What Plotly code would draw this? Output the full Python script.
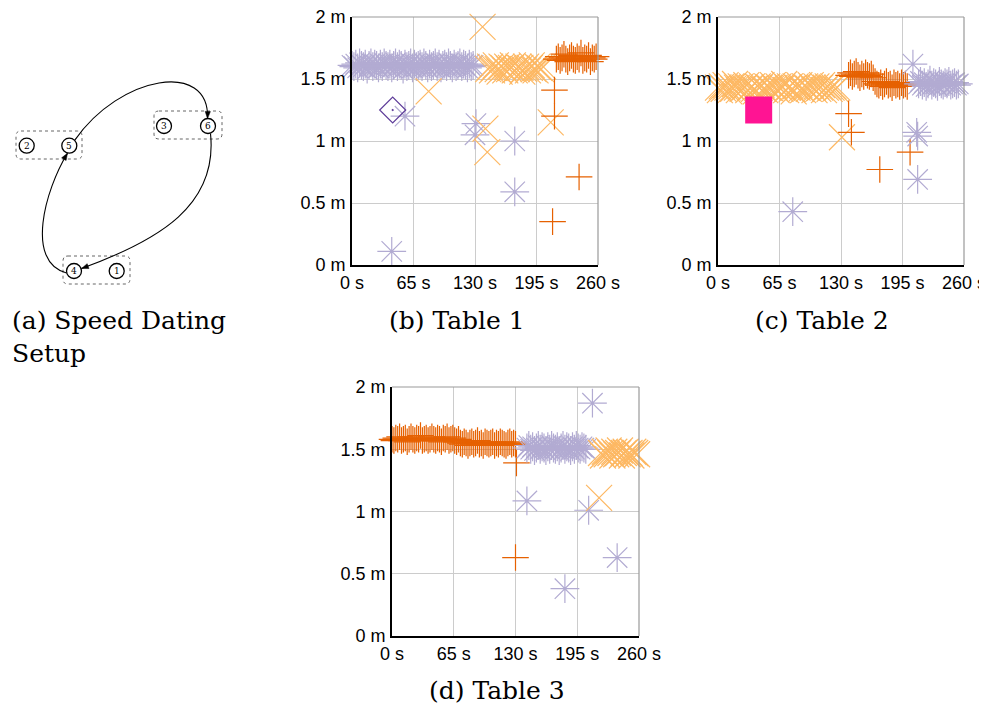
import numpy as np
import plotly.graph_objects as go

# target picture is 987x709; the page body adds an 8px margin, so the figure
# is drawn 8px smaller and every target pixel position is shifted by 8px.
TW, TH = 987, 709
OFF = 8
W, H = TW - OFF, TH - OFF

# ---------------- data ----------------
X_TICKS = [0, 65, 130, 195, 260]
X_TICK_TEXT = ["0 s", "65 s", "130 s", "195 s", "260 s"]
Y_TICKS = [0, 0.5, 1, 1.5, 2]
Y_TICK_TEXT = ["0 m", "0.5 m", "1 m", "1.5 m", "2 m"]

# ---- Table 1 ----
B_LAV_X = [0, 2, 4, 6, 8, 10, 12, 14, 16, 18, 20, 22, 24, 26, 28, 30, 32, 34, 36, 38,
           40, 42, 44, 46, 48, 50, 52, 54, 56, 58, 60, 62, 64, 66, 68, 70, 72, 74, 76, 78,
           80, 82, 84, 86, 88, 90, 92, 94, 96, 98, 100, 102, 104, 106, 108, 110, 112, 114, 116, 118,
           120, 122, 124, 126, 128,
           42, 56, 130, 131, 172, 172]
B_LAV_Y = [1.61, 1.60, 1.62, 1.59, 1.63, 1.61, 1.60, 1.62, 1.58, 1.61,
           1.63, 1.60, 1.62, 1.61, 1.59, 1.62, 1.60, 1.63, 1.61, 1.60,
           1.62, 1.59, 1.61, 1.63, 1.60, 1.62, 1.61, 1.58, 1.62, 1.60,
           1.61, 1.63, 1.59, 1.62, 1.60, 1.61, 1.62, 1.60, 1.63, 1.61,
           1.59, 1.62, 1.60, 1.61, 1.63, 1.60, 1.62, 1.59, 1.61, 1.62,
           1.60, 1.63, 1.61, 1.59, 1.62, 1.60, 1.61, 1.63, 1.60, 1.62,
           1.61, 1.59, 1.62, 1.60, 1.61,
           0.11, 1.20, 1.05, 1.14, 1.00, 0.59]
B_LO_X = [144, 146, 148, 150, 152, 154, 156, 158, 160, 162, 164, 166, 168, 170, 172,
          174, 176, 178, 180, 182, 184, 186, 188, 190, 192, 194, 196, 198, 200, 202,
          138, 81, 141, 143, 210]
B_LO_Y = [1.58, 1.60, 1.57, 1.59, 1.61, 1.58, 1.56, 1.60, 1.59, 1.57,
          1.60, 1.58, 1.59, 1.61, 1.57, 1.58, 1.60, 1.59, 1.56, 1.58,
          1.60, 1.57, 1.59, 1.61, 1.58, 1.57, 1.60, 1.59, 1.58, 1.60,
          1.92, 1.40, 1.10, 0.91, 1.15]
B_DO_X = [216, 218, 220, 222, 224, 226, 228, 230, 232, 234, 236, 238, 240, 242, 244,
          246, 248, 250, 252, 254, 256, 258,
          214, 214, 240, 212]
B_DO_Y = [1.66, 1.68, 1.65, 1.67, 1.70, 1.66, 1.64, 1.67, 1.69, 1.66, 1.65, 1.68, 1.66, 1.71, 1.65,
          1.67, 1.66, 1.69, 1.64, 1.67, 1.66, 1.68,
          1.41, 1.20, 0.71, 0.35]
B_DIA_X = [43]
B_DIA_Y = [1.25]

# ---- Table 2 ----
C_LO_X = [0, 2, 4, 6, 8, 10, 12, 14, 16, 18, 20, 22, 24, 26, 28, 30, 32, 34, 36, 38,
          40, 42, 44, 46, 48, 50, 52, 54, 56, 58, 60, 62, 64, 66, 68, 70, 72, 74, 76, 78,
          80, 82, 84, 86, 88, 90, 92, 94, 96, 98, 100, 102, 104, 106, 108, 110, 112, 114, 116, 118,
          120, 122, 124, 126,
          131]
C_LO_Y = [1.43, 1.41, 1.44, 1.42, 1.45, 1.43, 1.40, 1.44, 1.42, 1.46,
          1.43, 1.41, 1.44, 1.42, 1.43, 1.45, 1.41, 1.43, 1.44, 1.42,
          1.40, 1.44, 1.43, 1.45, 1.42, 1.41, 1.44, 1.43, 1.42, 1.45,
          1.43, 1.41, 1.44, 1.42, 1.43, 1.46, 1.41, 1.43, 1.44, 1.42,
          1.40, 1.44, 1.43, 1.45, 1.42, 1.41, 1.44, 1.43, 1.42, 1.45,
          1.43, 1.41, 1.44, 1.42, 1.43, 1.45, 1.41, 1.43, 1.44, 1.42,
          1.43, 1.44, 1.42, 1.43,
          1.03]
C_DO_X = [138, 140, 142, 144, 146, 148, 150, 152, 154, 156, 158, 160, 162, 164,
          166, 168, 170, 172, 174, 176, 178, 180, 182, 184, 186, 188, 190, 192, 194, 196, 198, 200,
          138, 141, 171, 203]
C_DO_Y = [1.53, 1.55, 1.52, 1.54, 1.56, 1.53, 1.51, 1.54, 1.52, 1.55, 1.53, 1.52, 1.54, 1.51,
          1.48, 1.46, 1.45, 1.47, 1.44, 1.46, 1.48, 1.45, 1.46, 1.43, 1.47, 1.45, 1.46, 1.44, 1.47, 1.45, 1.46, 1.44,
          1.22, 1.07, 0.77, 0.91]
C_LAV_X = [212, 214, 216, 218, 220, 222, 224, 226, 228, 230, 232, 234, 236, 238, 240,
           242, 244, 246, 248, 250, 252, 254,
           206, 210, 211, 211, 79]
C_LAV_Y = [1.46, 1.48, 1.45, 1.47, 1.44, 1.46, 1.49, 1.45, 1.47, 1.46, 1.44, 1.48, 1.46, 1.45, 1.47,
           1.46, 1.48, 1.45, 1.46, 1.47, 1.45, 1.46,
           1.62, 1.07, 1.04, 0.69, 0.43]
C_SQ_X = [43]
C_SQ_Y = [1.25]

# ---- Table 3 ----
D_DO_X = [0, 2, 4, 6, 8, 10, 12, 14, 16, 18, 20, 22, 24, 26, 28, 30, 32, 34, 36, 38,
          40, 42, 44, 46, 48, 50, 52, 54, 56, 58, 60, 62, 64, 66, 68, 70, 72, 74, 76, 78,
          80, 82, 84, 86, 88, 90, 92, 94, 96, 98, 100, 102, 104, 106, 108, 110, 112, 114, 116, 118,
          120, 122, 124, 126, 128, 130,
          131, 130]
D_DO_Y = [1.58, 1.57, 1.59, 1.58, 1.60, 1.57, 1.58, 1.59, 1.56, 1.58,
          1.60, 1.58, 1.57, 1.59, 1.58, 1.61, 1.57, 1.58, 1.59, 1.57,
          1.58, 1.60, 1.58, 1.57, 1.59, 1.58, 1.56, 1.59, 1.58, 1.60,
          1.57, 1.58, 1.59, 1.57, 1.56, 1.58,
          1.55, 1.54, 1.56, 1.55, 1.53, 1.55, 1.56, 1.54, 1.55, 1.57,
          1.54, 1.55, 1.53, 1.56, 1.55, 1.54, 1.55, 1.56, 1.53, 1.55,
          1.54, 1.56, 1.55, 1.54, 1.53, 1.55, 1.56, 1.54, 1.55, 1.54,
          1.39, 0.63]
D_LAV_X = [142, 144, 146, 148, 150, 152, 154, 156, 158, 160, 162, 164, 166, 168, 170, 172,
           174, 176, 178, 180, 182, 184, 186, 188, 190, 192, 194, 196, 198, 200, 202, 204,
           211, 142, 207, 237, 182]
D_LAV_Y = [1.51, 1.53, 1.50, 1.52, 1.49, 1.51, 1.53, 1.50, 1.52, 1.51,
           1.49, 1.52, 1.50, 1.53, 1.51, 1.50, 1.52, 1.49, 1.51, 1.53,
           1.50, 1.52, 1.51, 1.49, 1.52, 1.50, 1.53, 1.51, 1.50, 1.52,
           1.51, 1.50,
           1.87, 1.085, 1.01, 0.63, 0.38]
D_LO_X = [220, 222, 224, 226, 228, 230, 232, 234, 236, 238, 240, 242, 244, 246, 248,
          250, 252, 254, 256, 258,
          218]
D_LO_Y = [1.47, 1.45, 1.48, 1.46, 1.49, 1.47, 1.45, 1.48, 1.46, 1.47, 1.49, 1.45, 1.47, 1.48, 1.46,
          1.47, 1.45, 1.48, 1.47, 1.46,
          1.11]

CAPTIONS = ["(a) Speed Dating<br>Setup", "(b) Table 1", "(c) Table 2", "(d) Table 3"]

# ---------------- style ----------------
DARK_OR = "#e66101"
LIGHT_OR = "#fdb863"
LAV = "#b2abd2"
PURPLE = "#5e3c99"
PINK = "#ff1493"
GRID = "#cccccc"
TICKFONT = dict(family="Liberation Sans, Arial, sans-serif", size=18, color="black")
CAPFONT = dict(family="DejaVu Serif, serif", size=25, color="black")


def px(x):
    return (x - OFF) / W


def py(y):
    return 1 - (y - OFF) / H


def dom_x(a, b):
    return [px(a), px(b)]


def dom_y(top, bottom):
    return [py(bottom), py(top)]


fig = go.Figure()

PANELS = [  # (xaxis id, yaxis id, x px range, y px range) in target-image pixels
    ("x", "y", (352, 598), (17, 265)),
    ("x2", "y2", (718, 964), (17, 265)),
    ("x3", "y3", (392, 639), (387, 636)),
]

SERIES = [
    [(B_LAV_X, B_LAV_Y, "asterisk-open", 24, LAV),
     (B_LO_X, B_LO_Y, "x-thin-open", 26, LIGHT_OR),
     (B_DO_X, B_DO_Y, "cross-thin-open", 19, DARK_OR),
     (B_DIA_X, B_DIA_Y, "diamond-open-dot", 20, PURPLE)],
    [(C_LO_X, C_LO_Y, "x-thin-open", 26, LIGHT_OR),
     (C_DO_X, C_DO_Y, "cross-thin-open", 19, DARK_OR),
     (C_LAV_X, C_LAV_Y, "asterisk-open", 24, LAV),
     (C_SQ_X, C_SQ_Y, "square", 27, PINK)],
    [(D_DO_X, D_DO_Y, "cross-thin-open", 19, DARK_OR),
     (D_LAV_X, D_LAV_Y, "asterisk-open", 24, LAV),
     (D_LO_X, D_LO_Y, "x-thin-open", 26, LIGHT_OR)],
]

layout = dict(
    template="none",
    width=W, height=H, margin=dict(l=0, r=0, t=0, b=0, pad=0), autosize=False,
    paper_bgcolor="white", plot_bgcolor="white", showlegend=False,
)
shapes = []
annotations = []

for (xa, ya, (x0, x1), (y0, y1)), series in zip(PANELS, SERIES):
    for xs, ys, sym, sz, col in series:
        assert len(xs) == len(ys)
        fig.add_trace(go.Scatter(
            x=xs, y=ys, mode="markers", xaxis=xa, yaxis=ya, cliponaxis=False,
            hoverinfo="skip",
            marker=dict(symbol=sym, size=sz, color=col,
                        line=dict(width=1.2 if sym != "square" else 0, color=col)),
        ))
    xname = "xaxis" if xa == "x" else "xaxis" + xa[1:]
    yname = "yaxis" if ya == "y" else "yaxis" + ya[1:]
    layout[xname] = dict(
        domain=dom_x(x0, x1), anchor=ya, range=[0, 260], automargin=False,
        tickmode="array", tickvals=X_TICKS, ticktext=X_TICK_TEXT,
        showgrid=True, gridcolor=GRID, gridwidth=1.2, zeroline=False,
        showline=True, linecolor="black", linewidth=1.6, ticks="",
        tickfont=TICKFONT, ticklabelstandoff=1, ticklabeloverflow="allow", fixedrange=True,
    )
    layout[yname] = dict(
        domain=dom_y(y0, y1), anchor=xa, range=[0, 2], automargin=False,
        tickmode="array", tickvals=Y_TICKS, ticktext=Y_TICK_TEXT,
        showgrid=True, gridcolor=GRID, gridwidth=1.2, zeroline=False,
        showline=True, linecolor="black", linewidth=1.6, ticks="",
        tickfont=TICKFONT, ticklabelstandoff=1, ticklabeloverflow="allow", fixedrange=True,
    )
    # grey top / right border
    shapes.append(dict(type="line", xref=f"{xa} domain", yref=f"{ya} domain",
                       x0=0, x1=1, y0=1, y1=1, line=dict(color="#999999", width=1.2)))
    shapes.append(dict(type="line", xref=f"{xa} domain", yref=f"{ya} domain",
                       x0=1, x1=1, y0=0, y1=1, line=dict(color="#999999", width=1.2)))

# ---------------- diagram (a) on a hidden pixel-scaled axis ----------------
layout["xaxis4"] = dict(domain=[0, px(240)], range=[OFF, 240], visible=False,
                        anchor="y4", fixedrange=True, automargin=False)
layout["yaxis4"] = dict(domain=[py(370), 1], range=[370, OFF], visible=False,
                        anchor="x4", fixedrange=True, automargin=False)
fig.add_trace(go.Scatter(x=[100], y=[100], xaxis="x4", yaxis="y4", mode="markers",
                         marker=dict(opacity=0), hoverinfo="skip"))

NODES = {1: (116.7, 271), 2: (26.7, 145.7), 3: (164, 126), 4: (74, 271), 5: (69.3, 145.7), 6: (208, 126)}
BOXES = [(16, 131, 82, 159), (154, 111, 222, 139), (63, 256, 130, 284)]
ARROWS = [
    [(74.6, 140.4), (120, 75), (210, 60), (207.5, 118.5)],
    [(210.5, 133.5), (218, 205), (160, 240), (81.5, 268.5)],
    [(66.5, 273), (25, 262), (45, 190), (67.5, 153.2)],
]


def rrect(x0, y0, x1, y1, r):
    return (f"M{x0+r},{y0} L{x1-r},{y0} Q{x1},{y0} {x1},{y0+r} L{x1},{y1-r} "
            f"Q{x1},{y1} {x1-r},{y1} L{x0+r},{y1} Q{x0},{y1} {x0},{y1-r} "
            f"L{x0},{y0+r} Q{x0},{y0} {x0+r},{y0} Z")


for b in BOXES:
    shapes.append(dict(type="path", xref="x4", yref="y4", path=rrect(*b, 5),
                       line=dict(color="#666666", width=1, dash="dot")))

for p0, p1, p2, p3 in ARROWS:
    shapes.append(dict(type="path", xref="x4", yref="y4",
                       path=f"M{p0[0]},{p0[1]} C{p1[0]},{p1[1]} {p2[0]},{p2[1]} {p3[0]},{p3[1]}",
                       line=dict(color="black", width=1.1)))
    d = np.array(p3) - np.array(p2)
    d = d / np.linalg.norm(d)
    perp = np.array([-d[1], d[0]])
    tip = np.array(p3)
    base = tip - 7 * d
    a = base + 2.6 * perp
    c = base - 2.6 * perp
    shapes.append(dict(type="path", xref="x4", yref="y4",
                       path=f"M{tip[0]},{tip[1]} L{a[0]},{a[1]} L{c[0]},{c[1]} Z",
                       fillcolor="black", line=dict(color="black", width=0.5)))

for n, (cx, cy) in NODES.items():
    shapes.append(dict(type="circle", xref="x4", yref="y4",
                       x0=cx - 7.5, x1=cx + 7.5, y0=cy - 7.5, y1=cy + 7.5,
                       fillcolor="white", line=dict(color="black", width=1.3)))
    annotations.append(dict(x=cx, y=cy, xref="x4", yref="y4", text=str(n), showarrow=False,
                            font=dict(family="DejaVu Serif, serif", size=9, color="black"),
                            xanchor="center", yanchor="middle"))

# ---------------- captions ----------------
annotations.append(dict(x=px(10), y=py(337), xref="paper", yref="paper", text=CAPTIONS[0],
                        showarrow=False, xanchor="left", yanchor="middle", align="left", font=CAPFONT))
annotations.append(dict(x=px(457), y=py(320), xref="paper", yref="paper", text=CAPTIONS[1],
                        showarrow=False, xanchor="center", yanchor="middle", font=CAPFONT))
annotations.append(dict(x=px(822), y=py(320), xref="paper", yref="paper", text=CAPTIONS[2],
                        showarrow=False, xanchor="center", yanchor="middle", font=CAPFONT))
annotations.append(dict(x=px(497), y=py(690), xref="paper", yref="paper", text=CAPTIONS[3],
                        showarrow=False, xanchor="center", yanchor="middle", font=CAPFONT))

layout["shapes"] = shapes
layout["annotations"] = annotations
fig.update_layout(**layout)
fig.write_html("out.html")
